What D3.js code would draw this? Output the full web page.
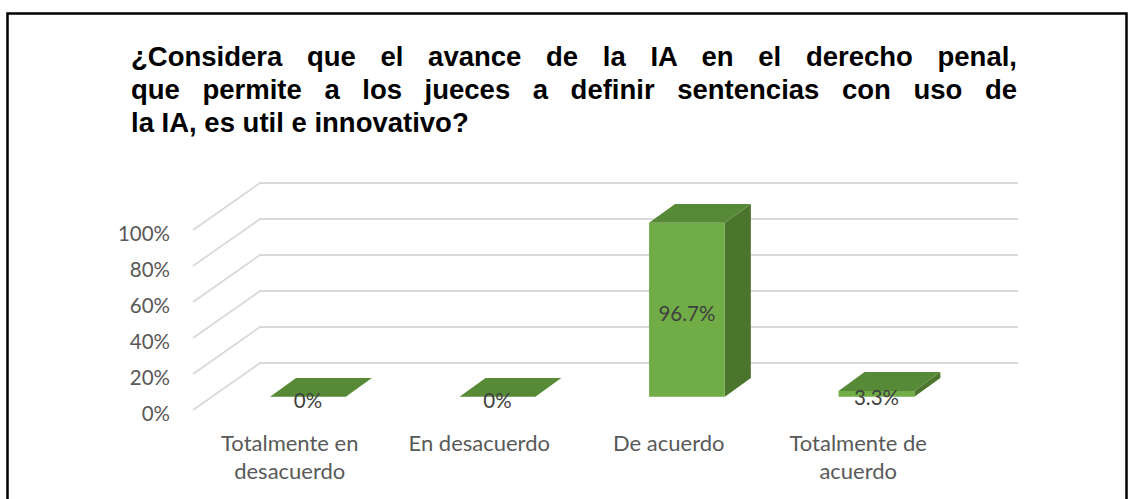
<!DOCTYPE html>
<html><head><meta charset="utf-8">
<script src="https://cdn.jsdelivr.net/npm/d3@7"></script>
<style>html,body{margin:0;padding:0;background:#fff;}svg{display:block;}</style>
</head><body>
<script>
const titleLines = ["¿Considera que el avance de la IA en el derecho penal,",
                    "que permite a los jueces a definir sentencias con uso de",
                    "la IA, es util e innovativo?"];
const categories = ["Totalmente en desacuerdo", "En desacuerdo", "De acuerdo", "Totalmente de acuerdo"];
const values = [0, 0, 0.967, 0.033];
const yTicks = [0, 0.2, 0.4, 0.6, 0.8, 1.0];

const W = 1129, H = 499;
const svg = d3.select("body").append("svg").attr("width", W).attr("height", H);
svg.append("rect").attr("width", W).attr("height", H).attr("fill", "#fff");
svg.append("rect").attr("x", 7.5).attr("y", 13.5).attr("width", 1119).attr("height", 520)
  .attr("fill", "none").attr("stroke", "#000").attr("stroke-width", 2.5);

// Title (justified lines)
const tStartX = 131, tEndX = 1017;
const title = svg.append("g").attr("font-family", "'Liberation Sans', Arial, sans-serif")
  .attr("font-weight", "bold").attr("font-size", 27.5).attr("fill", "#000");
titleLines.forEach((line, i) => {
  const t = title.append("text").attr("x", tStartX).attr("y", 66 + i * 33).text(line);
  if (i < titleLines.length - 1) {
    const w = t.node().getComputedTextLength();
    const gaps = line.split(" ").length - 1;
    t.attr("word-spacing", Math.max(0, (tEndX - tStartX - w) / gaps));
  }
});

// 3D projection
const DX = 65, DY = -47;
const x = d3.scaleBand().domain(categories).range([195, 953]).padding(0);
const y = d3.scaleLinear().domain([0, 1]).range([410, 230]);
const P = (px, v, z) => [px + z * DX, y(v) + z * DY];
const xLeft = x.range()[0], xRight = x.range()[1];

// gridlines
const grid = svg.append("g");
yTicks.forEach(v => {
  const pts = [P(xLeft - 2, v, 0), P(xLeft, v, 1), P(xRight, v, 1)];
  grid.append("path").attr("d", d3.line()(pts)).attr("fill", "none")
    .attr("stroke", "#d9d9d9").attr("stroke-width", 1.8);
});

// y tick labels
const fmtTick = d3.format(".0%");
svg.append("g").attr("font-family", "Lato, 'Open Sans', sans-serif").attr("font-size", 20.5)
  .attr("fill", "#595959").attr("text-anchor", "end")
  .selectAll("text").data(yTicks).join("text")
  .attr("x", 170).attr("y", d => y(d) + 3).attr("dominant-baseline", "central")
  .text(d => fmtTick(d));

// bars
const bw = x.bandwidth() / 2.5, z0 = 0.28, z1 = 0.68;
const bars = svg.append("g");
categories.forEach((c, i) => {
  const v = values[i];
  const cx = x(c) + x.bandwidth() / 2;
  const x0 = cx - bw / 2, x1 = cx + bw / 2;
  const poly = pts => "M" + pts.map(p => p.join(",")).join("L") + "Z";
  const g = bars.append("g");
  g.append("path").attr("d", poly([P(x1, 0, z0), P(x1, 0, z1), P(x1, v, z1), P(x1, v, z0)]))
    .attr("fill", "#4b742d");
  g.append("path").attr("d", poly([P(x0, 0, z0), P(x1, 0, z0), P(x1, v, z0), P(x0, v, z0)]))
    .attr("fill", "#70ad47");
  g.append("path").attr("d", poly([P(x0, v, z0), P(x1, v, z0), P(x1, v, z1), P(x0, v, z1)]))
    .attr("fill", "#578a37");
});

// data labels
const fmtVal = v => v === 0 ? "0%" : d3.format(".1f")(v * 100) + "%";
svg.append("g").attr("font-family", "Lato, 'Open Sans', sans-serif").attr("font-size", 20.5)
  .attr("fill", "#404040").attr("text-anchor", "middle")
  .selectAll("text").data(categories).join("text")
  .attr("x", d => x(d) + x.bandwidth() / 2 + z0 * DX)
  .attr("y", (d, i) => (P(0, 0, z0)[1] + P(0, values[i], z0)[1]) / 2 + 3)
  .attr("dominant-baseline", "central")
  .text((d, i) => fmtVal(values[i]));

// category labels (wrapped)
const catG = svg.append("g").attr("font-family", "Lato, 'Open Sans', sans-serif").attr("font-size", 22)
  .attr("fill", "#595959").attr("text-anchor", "middle");
categories.forEach(c => {
  const cx = x(c) + x.bandwidth() / 2;
  const words = c.split(" ");
  const lines = [];
  let cur = [];
  const probe = catG.append("text");
  words.forEach(w => {
    const test = cur.concat([w]).join(" ");
    probe.text(test);
    if (probe.node().getComputedTextLength() > 170 && cur.length) {
      lines.push(cur.join(" ")); cur = [w];
    } else cur.push(w);
  });
  if (cur.length) lines.push(cur.join(" "));
  probe.remove();
  lines.forEach((l, j) => {
    catG.append("text").attr("x", cx).attr("y", 451 + j * 28).text(l);
  });
});
</script>
</body></html>
